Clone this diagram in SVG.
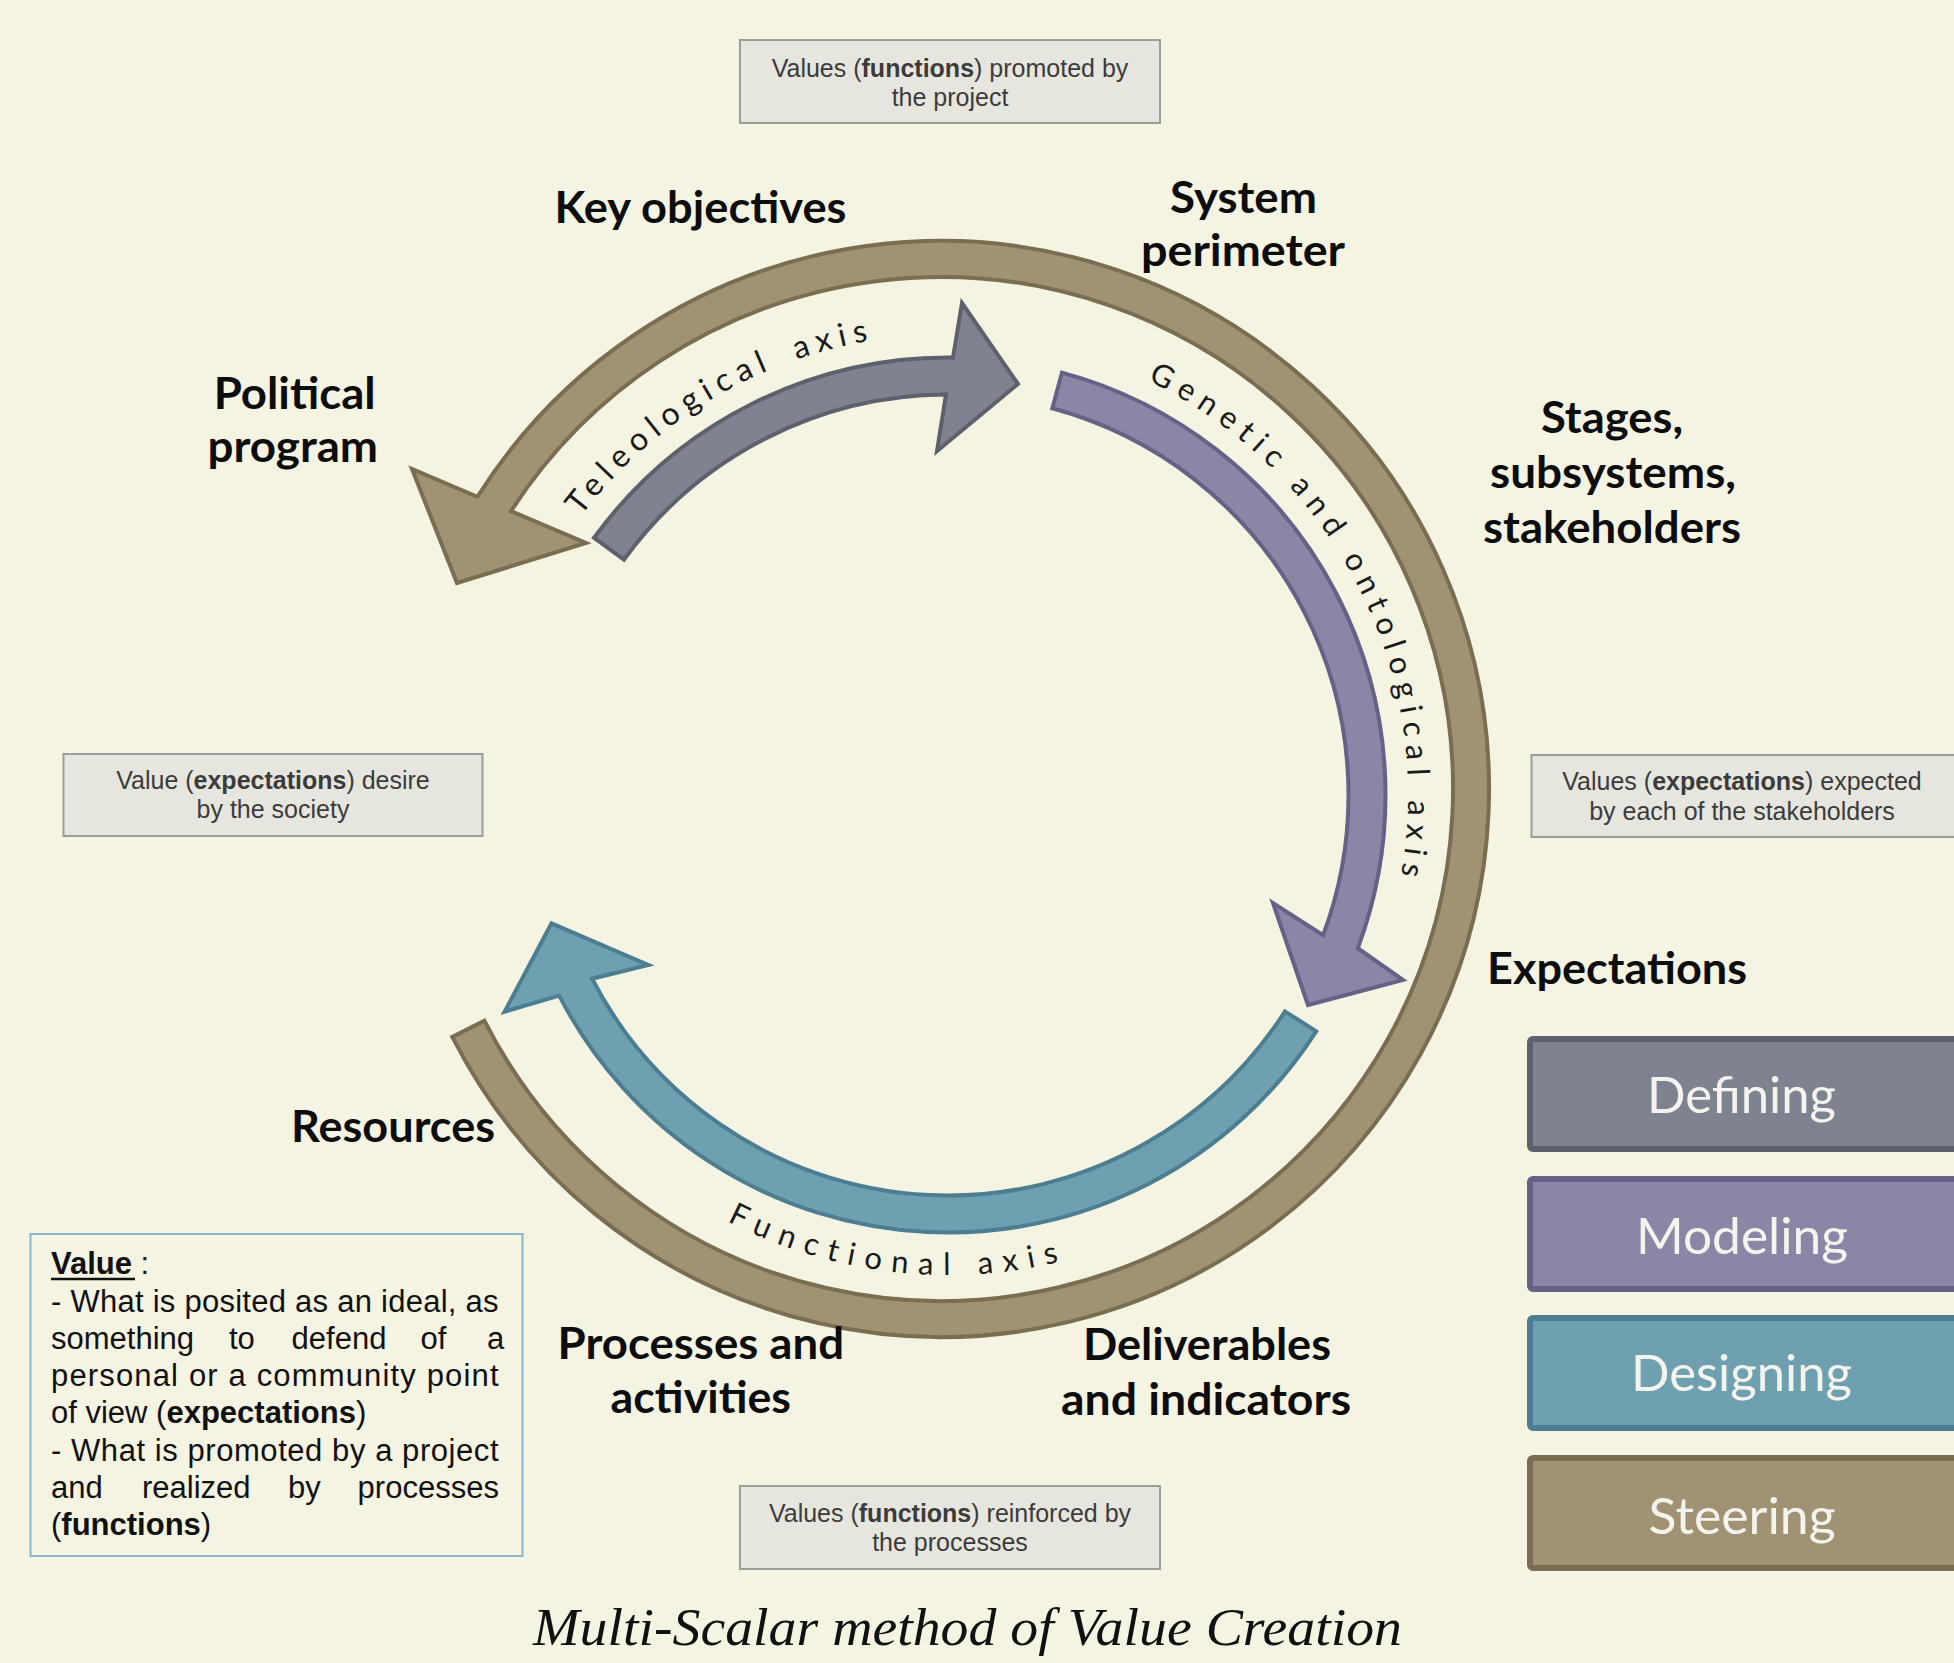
<svg xmlns="http://www.w3.org/2000/svg" width="1954" height="1663" viewBox="0 0 1954 1663">
<style>
.lbl{font-family:Lato,"Open Sans","DejaVu Sans",sans-serif;font-weight:700;font-size:43px;fill:#0d0d0d}
.ibox{fill:#E6E6DF;stroke:#9C9C9C;stroke-width:2}
.info{font-family:"Liberation Sans",Arial,sans-serif;font-size:25px;fill:#3b3b3b;text-anchor:middle}
.axis{font-family:Lato,"Open Sans",sans-serif;font-size:31px;letter-spacing:8px;fill:#1a1a1a}
.leg{font-family:Lato,"Open Sans",sans-serif;font-size:51px;fill:#F4F4EE}
.val{font-family:"Liberation Sans",Arial,sans-serif;font-size:31px;fill:#111}
.b{font-weight:700}
.steer{fill:#A09272;stroke:#7A6E52;stroke-width:4;stroke-linejoin:miter}
.def{fill:#7E838F;stroke:#5D616C;stroke-width:4}
.mod{fill:#8B86A6;stroke:#676186;stroke-width:4}
.des{fill:#6EA0B0;stroke:#4C7D90;stroke-width:4}
</style>
<defs>
<path id="pTele" d="M 580.8,516.3 A 461 461 0 0 1 1028,341"/>
<path id="pGen" d="M 1147.6,380.5 A 460 460 0 0 1 1364.9,989.4"/>
<path id="pFun" d="M 727.1,1221.1 A 480 480 0 0 0 1188,1210.7"/>
</defs>
<rect x="0" y="0" width="1954" height="1663" fill="#F5F4E2"/>

<g id="connectors">
<path id="steering-arc" class="steer" d="M 452.3,1036.9 A 548 548 0 1 0 477.4,496.8 L 412,469 L 457,583 L 586,543 L 511,511.1 A 512 512 0 1 1 484.4,1020.6 Z"/>
<path id="defining-arc" class="def" d="M 594.1,537.8 A 437.5 437.5 0 0 1 953,357.5 L 962,303 L 1018,384 L 937,451 L 946,394.5 A 400.5 400.5 0 0 0 624,559.6 Z"/>
<path id="modeling-arc" class="mod" d="M 1062,372.6 A 437.5 437.5 0 0 1 1357.8,948.2 L 1403,980 L 1308,1005 L 1273,903 L 1323.1,935.3 A 400.5 400.5 0 0 0 1052.3,408.3 Z"/>
<path id="designing-arc" class="des" d="M 1316.2,1031.3 A 437.5 437.5 0 0 1 559.2,995.6 L 504.6,1011.7 L 551.5,923.3 L 648.3,965 L 592.1,978.7 A 400.5 400.5 0 0 0 1285,1011.4 Z"/>
<text class="axis" style="font-size:32px;letter-spacing:7px;word-spacing:8px"><textPath href="#pTele">Teleological axis</textPath></text>
<text class="axis"><textPath href="#pGen">Genetic and ontological axis</textPath></text>
<text class="axis" style="letter-spacing:10px"><textPath href="#pFun">Functional axis</textPath></text>
</g>

<g id="key-objectives"><text class="lbl" x="554.5" y="223" textLength="292" lengthAdjust="spacingAndGlyphs">Key objectives</text></g>
<g id="system-perimeter">
<text class="lbl" x="1170" y="213" textLength="147" lengthAdjust="spacingAndGlyphs">System</text>
<text class="lbl" x="1141" y="266" textLength="204" lengthAdjust="spacingAndGlyphs">perimeter</text>
</g>
<g id="political-program">
<text class="lbl" x="213.7" y="409" textLength="162" lengthAdjust="spacingAndGlyphs">Political</text>
<text class="lbl" x="207.5" y="462" textLength="170.5" lengthAdjust="spacingAndGlyphs">program</text>
</g>
<g id="stages">
<text class="lbl" x="1541" y="433" textLength="142" lengthAdjust="spacingAndGlyphs">Stages,</text>
<text class="lbl" x="1490" y="488" textLength="246" lengthAdjust="spacingAndGlyphs">subsystems,</text>
<text class="lbl" x="1483" y="543" textLength="258" lengthAdjust="spacingAndGlyphs">stakeholders</text>
</g>
<g id="expectations"><text class="lbl" x="1487" y="983.5" textLength="260" lengthAdjust="spacingAndGlyphs">Expectations</text></g>
<g id="resources"><text class="lbl" x="291" y="1142" textLength="204" lengthAdjust="spacingAndGlyphs">Resources</text></g>
<g id="processes">
<text class="lbl" x="557.6" y="1359" textLength="286.4" lengthAdjust="spacingAndGlyphs">Processes and</text>
<text class="lbl" x="610.6" y="1413" textLength="180.4" lengthAdjust="spacingAndGlyphs">activities</text>
</g>
<g id="deliverables">
<text class="lbl" x="1083" y="1360" textLength="248" lengthAdjust="spacingAndGlyphs">Deliverables</text>
<text class="lbl" x="1061" y="1415" textLength="290" lengthAdjust="spacingAndGlyphs">and indicators</text>
</g>

<g id="values-project">
<rect class="ibox" x="740" y="40" width="420" height="83"/>
<text class="info" x="950" y="77">Values (<tspan class="b">functions</tspan>) promoted by</text>
<text class="info" x="950" y="106">the project</text>
</g>
<g id="value-society">
<rect class="ibox" x="63.5" y="754" width="419" height="82"/>
<text class="info" x="273" y="789">Value (<tspan class="b">expectations</tspan>) desire</text>
<text class="info" x="273" y="818">by the society</text>
</g>
<g id="values-stakeholders">
<rect class="ibox" x="1531.5" y="755" width="440" height="82"/>
<text class="info" x="1742" y="790">Values (<tspan class="b">expectations</tspan>) expected</text>
<text class="info" x="1742" y="820">by each of the stakeholders</text>
</g>
<g id="values-processes">
<rect class="ibox" x="740" y="1486" width="420" height="83"/>
<text class="info" x="950" y="1522">Values (<tspan class="b">functions</tspan>) reinforced by</text>
<text class="info" x="950" y="1551">the processes</text>
</g>

<g id="value-definition">
<rect x="30.5" y="1234" width="492" height="322" fill="none" stroke="#8CB6CA" stroke-width="2"/>
<text class="val" x="51" y="1274"><tspan class="b">Value</tspan> :</text>
<line x1="51" y1="1279" x2="135" y2="1279" stroke="#111" stroke-width="2.5"/>
<text class="val" x="51" y="1312" textLength="447.5" lengthAdjust="spacing">- What is posited as an ideal, as</text>
<text class="val" y="1349"><tspan x="51">something</tspan> <tspan x="229">to</tspan> <tspan x="291.6">defend</tspan> <tspan x="420.6">of</tspan> <tspan x="487">a</tspan></text>
<text class="val" x="51" y="1386" textLength="447.5" lengthAdjust="spacing">personal or a community point</text>
<text class="val" x="51" y="1423">of view (<tspan class="b">expectations</tspan>)</text>
<text class="val" x="51" y="1461" textLength="447.5" lengthAdjust="spacing">- What is promoted by a project</text>
<text class="val" y="1498"><tspan x="51">and</tspan> <tspan x="142">realized</tspan> <tspan x="288">by</tspan> <tspan x="357.6">processes</tspan></text>
<text class="val" x="51" y="1535">(<tspan class="b">functions</tspan>)</text>
</g>

<g id="legend-defining">
<rect x="1530" y="1039" width="430" height="110" rx="3" fill="#7E838F" stroke="#5D616C" stroke-width="6"/>
<text class="leg" x="1647" y="1113" textLength="189" lengthAdjust="spacingAndGlyphs">Defining</text>
</g>
<g id="legend-modeling">
<rect x="1530" y="1179" width="430" height="110" rx="3" fill="#8B86A6" stroke="#676186" stroke-width="6"/>
<text class="leg" x="1636" y="1253.5" textLength="212" lengthAdjust="spacingAndGlyphs">Modeling</text>
</g>
<g id="legend-designing">
<rect x="1530" y="1318" width="430" height="110" rx="3" fill="#6EA0B0" stroke="#4C7D90" stroke-width="6"/>
<text class="leg" x="1631" y="1391" textLength="221" lengthAdjust="spacingAndGlyphs">Designing</text>
</g>
<g id="legend-steering">
<rect x="1530" y="1458" width="430" height="110" rx="3" fill="#A09272" stroke="#7A6E52" stroke-width="6"/>
<text class="leg" x="1648.6" y="1534" textLength="187" lengthAdjust="spacingAndGlyphs">Steering</text>
</g>

<g id="title">
<text x="967.5" y="1645" text-anchor="middle" font-family="'Liberation Serif','Times New Roman',serif" font-style="italic" font-size="52" fill="#111" textLength="869" lengthAdjust="spacingAndGlyphs">Multi-Scalar method of Value Creation</text>
</g>
</svg>
